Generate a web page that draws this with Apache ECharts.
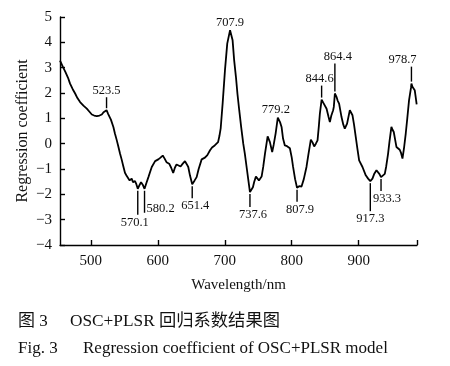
<!DOCTYPE html>
<html>
<head>
<meta charset="utf-8">
<script src="https://cdn.jsdelivr.net/npm/echarts@6/dist/echarts.min.js"></script>
<style>
html,body{margin:0;padding:0;background:#fff;}
#c{width:450px;height:366px;}
</style>
</head>
<body>
<div id="c"></div>
<script>
// ---- data ----
const wavelengths = [454,458,462,466,469,473,476.6,480,484,489,494,498,501.5,505,509,513,516.4,519,523.5,526,530,533.7,536,538.8,541,543.7,546,548.6,551,553.7,556,558,561,563,566,568,570.1,572.5,575,577.5,580.2,583,586,588.5,591,596,600.8,604,607.4,610,613,617,620,623,625.5,628,631,634,637,640.6,643,645.5,648,651.4,655,658,661,665.5,670.4,674,678,681,685,690,692,693.9,696.8,700.3,703.7,707.9,711.7,714,716.7,719,721.6,724.5,727.6,730,733,735,737.6,740,742,744,746.5,749,751,752.5,755,757.4,760,764,767.4,770.8,773,775.9,778,779.2,781,782.5,784.8,787,789.7,793,797.2,800,802,805,807.9,811,814.6,818,822,825,828.5,831,833.5,836,838.5,840.5,842,844.6,847,849,852,855,856.9,859,861.8,862.8,864.4,866.8,868.5,870.7,874.3,877,879.2,882.6,886.7,890.7,893,895.6,898,900.6,905.6,910.5,914,917.3,920.5,923,926.5,929,931,933.3,936,938.9,941,943.8,946,948.8,950.5,952.3,956.3,959,961.2,963,965.3,967.5,970.2,972.5,975.1,978,978.7,980.2,981.5,983.6,985,986.5];
const coefficients = [3.28,3.05,2.83,2.6,2.37,2.15,1.98,1.8,1.64,1.5,1.38,1.26,1.15,1.11,1.09,1.11,1.15,1.24,1.32,1.17,0.95,0.66,0.4,0.13,-0.1,-0.4,-0.62,-0.9,-1.15,-1.28,-1.35,-1.45,-1.38,-1.52,-1.48,-1.6,-1.78,-1.65,-1.52,-1.62,-1.78,-1.55,-1.32,-1.12,-0.92,-0.69,-0.62,-0.55,-0.47,-0.58,-0.73,-0.79,-0.95,-1.16,-0.95,-0.82,-0.86,-0.9,-0.8,-0.69,-0.8,-0.92,-1.25,-1.6,-1.45,-1.32,-1.0,-0.62,-0.55,-0.45,-0.26,-0.15,-0.07,0.06,0.3,0.6,1.58,2.9,3.95,4.48,4.08,3.3,2.63,1.95,1.32,0.65,0.0,-0.4,-1.0,-1.4,-1.91,-1.85,-1.72,-1.5,-1.3,-1.25,-1.45,-1.5,-1.3,-0.92,-0.4,0.29,0.06,-0.33,-0.05,0.4,0.8,1.03,1.0,0.85,0.66,0.2,-0.07,-0.1,-0.18,-0.55,-0.92,-1.4,-1.74,-1.68,-1.69,-1.4,-0.92,-0.4,0.16,0.05,-0.11,0.0,0.13,0.7,1.19,1.74,1.62,1.55,1.38,1.05,0.85,1.1,1.32,1.45,1.98,1.85,1.7,1.58,1.05,0.75,0.59,0.79,1.32,1.12,0.75,0.26,-0.2,-0.66,-0.92,-1.25,-1.38,-1.48,-1.38,-1.2,-1.05,-1.1,-1.2,-1.32,-1.25,-1.19,-0.9,-0.4,0.1,0.66,0.55,0.46,-0.13,-0.2,-0.24,-0.35,-0.59,-0.2,0.4,1.0,1.71,2.2,2.37,2.25,2.3,2.11,1.85,1.55];

const xTickValues = [500,600,700,800,900];
const yTickMin = -4, yTickMax = 5, yTickStep = 1;

const peakLabels = [523.5, 707.9, 779.2, 844.6, 864.4, 978.7];
const peakValues = [1.32, 4.48, 1.03, 1.74, 1.98, 2.37];
const valleyLabels = [570.1, 580.2, 651.4, 737.6, 807.9, 917.3, 933.3];
const valleyValues = [-1.78, -1.78, -1.6, -1.91, -1.74, -1.48, -1.32];

// ---- layout / style of annotations (pixels) ----
const peakLayout = [
  {len: 11, dx: 0},
  {len: 0, dx: 0},
  {len: 0, dx: -2},
  {len: 12, dx: -2},
  {len: 28, dx: 3},
  {len: 15, dx: -9}
];
const valleyLayout = [
  {len: 24, dx: -3},
  {len: 22, dx: 2, side: true},
  {len: 12, dx: 3},
  {len: 13, dx: 3},
  {len: 12, dx: 3},
  {len: 28, dx: 0},
  {len: 12, dx: 6}
];

const FONT = '"Liberation Serif", "Times New Roman", serif';
const ANN_FONT = '12.5px ' + FONT;

const lineData = wavelengths.map((w, i) => [w, coefficients[i]]);
const annData = [];
peakLabels.forEach((w, i) => annData.push([w, peakValues[i], 1, i]));
valleyLabels.forEach((w, i) => annData.push([w, valleyValues[i], -1, i]));

function renderAnn(params, api) {
  const w = api.value(0), v = api.value(1), dir = api.value(2), idx = api.value(3);
  const p = api.coord([w, v]);
  const children = [];
  const txt = String(w);
  if (dir > 0) {
    const L = peakLayout[idx];
    const top = p[1] - 2 - L.len;
    if (L.len > 0) {
      children.push({type: 'line', shape: {x1: p[0], y1: p[1] - 2, x2: p[0], y2: top},
        style: {stroke: '#000', lineWidth: 1.4}});
    }
    children.push({type: 'text', style: {text: txt, x: p[0] + L.dx, y: top + (L.len > 0 ? 0 : 1),
      align: 'center', verticalAlign: 'bottom', font: ANN_FONT, fill: '#111'}});
  } else {
    const L = valleyLayout[idx];
    const bot = p[1] + 2 + L.len;
    children.push({type: 'line', shape: {x1: p[0], y1: p[1] + 2, x2: p[0], y2: bot},
      style: {stroke: '#000', lineWidth: 1.4}});
    if (L.side) {
      children.push({type: 'text', style: {text: txt, x: p[0] + L.dx, y: bot - 4,
        align: 'left', verticalAlign: 'middle', font: ANN_FONT, fill: '#111'}});
    } else {
      children.push({type: 'text', style: {text: txt, x: p[0] + L.dx, y: bot + 1,
        align: 'center', verticalAlign: 'top', font: ANN_FONT, fill: '#111'}});
    }
  }
  return {type: 'group', children: children};
}

const chart = echarts.init(document.getElementById('c'), null, {renderer: 'canvas'});
chart.setOption({
  animation: false,
  backgroundColor: '#fff',
  grid: {left: 60, right: 33, top: 17, bottom: 121, containLabel: false},
  xAxis: {
    type: 'value', min: 454, max: 987,
    name: 'Wavelength/nm', nameLocation: 'middle', nameGap: 33, nameMoveOverlap: false,
    nameTextStyle: {fontFamily: FONT, fontSize: 15, color: '#111'},
    axisLine: {onZero: false, lineStyle: {color: '#000', width: 1.4}},
    axisTick: {inside: true, length: 5, lineStyle: {color: '#000', width: 1.4},
      customValues: xTickValues.concat([987])},
    axisLabel: {customValues: xTickValues, fontFamily: FONT, fontSize: 15, color: '#111', margin: 9},
    splitLine: {show: false}
  },
  yAxis: {
    type: 'value', min: yTickMin, max: yTickMax, interval: yTickStep,
    name: 'Regression coefficient', nameLocation: 'middle', nameGap: 29, nameRotate: 90,
    nameMoveOverlap: false,
    nameTextStyle: {fontFamily: FONT, fontSize: 16, color: '#111'},
    axisLine: {onZero: false, lineStyle: {color: '#000', width: 1.4}},
    axisTick: {inside: true, length: 5, lineStyle: {color: '#000', width: 1.4}},
    axisLabel: {fontFamily: FONT, fontSize: 15, color: '#111', margin: 8,
      formatter: v => String(v).replace('-', '\u2212')},
    splitLine: {show: false}
  },
  series: [
    {type: 'line', data: lineData, showSymbol: false, symbol: 'none',
     lineStyle: {color: '#000', width: 1.8}, z: 2},
    {type: 'custom', data: annData, renderItem: renderAnn, clip: false, z: 3,
     encode: {x: 0, y: 1}}
  ],
  graphic: [
    {type: 'text', left: 18, top: 313, style: {text: '图 3', font: '17px ' + FONT + ', "Noto Sans CJK SC"', fill: '#111'}},
    {type: 'text', left: 70, top: 313, style: {text: 'OSC+PLSR 回归系数结果图', font: '17.3px ' + FONT + ', "Noto Sans CJK SC"', fill: '#111'}},
    {type: 'text', left: 18, top: 340, style: {text: 'Fig. 3', font: '17px ' + FONT, fill: '#111'}},
    {type: 'text', left: 83, top: 340, style: {text: 'Regression coefficient of OSC+PLSR model', font: '17px ' + FONT, fill: '#111'}}
  ]
});
</script>
</body>
</html>
